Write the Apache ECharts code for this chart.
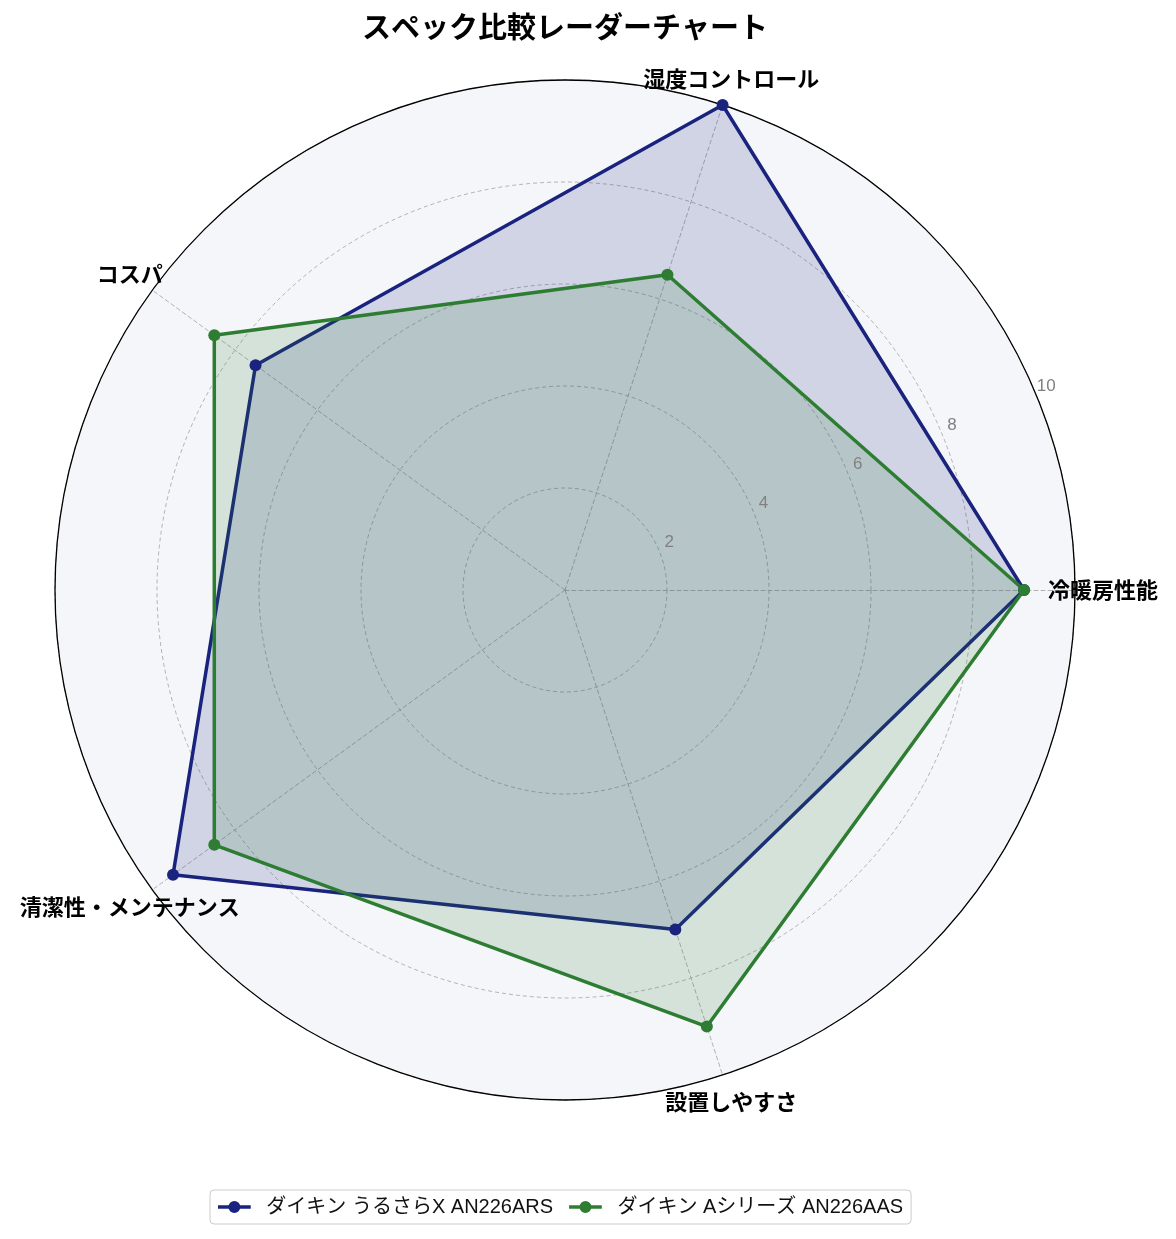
<!DOCTYPE html>
<html>
<head>
<meta charset="utf-8">
<script src="https://cdn.jsdelivr.net/npm/echarts@6/dist/echarts.min.js"></script>
<style>
  html, body { margin: 0; padding: 0; background: #fff; }
  #chart { width: 1176px; height: 1239px; }
</style>
</head>
<body>
<div id="chart"></div>
<script>
var titleText = 'スペック比較レーダーチャート';
var categories = ['冷暖房性能', '湿度コントロール', 'コスパ', '清潔性・メンテナンス', '設置しやすさ'];
var seriesNames = ['ダイキン うるさらX AN226ARS', 'ダイキン Aシリーズ AN226AAS'];
var urusaraValues = [9.0, 10.0, 7.5, 9.5, 7.0];
var aSeriesValues = [9.0, 6.5, 8.5, 8.5, 9.0];
var radialMax = 10;
var radialStep = 2;

var colors = ['#1a237e', '#2e7d32'];
var fontFamily = '"Noto Sans CJK JP", "Noto Sans", sans-serif';
var latinFont = '"Liberation Sans", "Noto Sans CJK JP", sans-serif';

var indicators = [];
for (var i = 0; i < categories.length; i++) {
    indicators.push({ name: categories[i], min: 0, max: radialMax });
}

var legendIcon = 'path://M0,4.5H30V7.5H0Z M15,0.5A5.5,5.5 0 1 1 15,11.5A5.5,5.5 0 1 1 15,0.5Z';

// 外周の黒い円用と、目盛りラベル用(少し外側にずらす)の2つの極座標
var option = {
    backgroundColor: '#ffffff',
    textStyle: { fontFamily: fontFamily },
    title: {
        text: titleText,
        left: 560,
        textAlign: 'center',
        top: 7,
        textStyle: { fontSize: 29, fontWeight: 'bold', color: '#000', fontFamily: fontFamily }
    },
    legend: {
        bottom: 15,
        left: 210,
        itemWidth: 42,
        itemHeight: 12,
        itemGap: 16,
        padding: [7, 8],
        borderColor: '#cccccc',
        borderWidth: 1,
        borderRadius: 4,
        data: [
            { name: seriesNames[0], icon: legendIcon },
            { name: seriesNames[1], icon: legendIcon }
        ],
        textStyle: { fontSize: 20, color: '#111', fontFamily: latinFont, padding: [0, 0, 0, 6] }
    },
    polar: [
        { center: [565, 590], radius: 510 },
        { center: [575, 581], radius: 510 }
    ],
    angleAxis: [
        {
            polarIndex: 0,
            type: 'value',
            min: 0,
            max: 360,
            startAngle: 22.5,
            axisLine: { show: true, lineStyle: { color: '#000', width: 1.3 } },
            axisTick: { show: false },
            axisLabel: { show: false },
            splitLine: { show: false }
        },
        {
            polarIndex: 1,
            type: 'value',
            min: 0,
            max: 360,
            startAngle: 22.5,
            axisLine: { show: false },
            axisTick: { show: false },
            axisLabel: { show: false },
            splitLine: { show: false }
        }
    ],
    radiusAxis: [
        {
            polarIndex: 0,
            type: 'value',
            min: 0,
            max: radialMax,
            interval: radialStep,
            axisLine: { show: false },
            axisTick: { show: false },
            splitLine: { show: false },
            axisLabel: { show: false }
        },
        {
            polarIndex: 1,
            type: 'value',
            min: 0,
            max: radialMax,
            interval: radialStep,
            z: 10,
            axisLine: { show: false },
            axisTick: { show: false },
            splitLine: { show: false },
            axisLabel: {
                color: '#808080',
                fontSize: 17,
                fontFamily: latinFont,
                margin: 0,
                align: 'center',
                verticalAlign: 'middle',
                formatter: function (v) { return v === 0 ? '' : String(v); }
            }
        }
    ],
    radar: {
        center: [565, 590],
        radius: 510,
        startAngle: 0,
        shape: 'circle',
        splitNumber: radialMax / radialStep,
        indicator: indicators,
        nameGap: 28,
        axisName: {
            color: '#000',
            fontSize: 22,
            fontWeight: 'bold',
            fontFamily: fontFamily,
            align: 'center',
            verticalAlign: 'middle'
        },
        splitArea: { show: true, areaStyle: { color: ['#f5f6fa'] } },
        splitLine: { lineStyle: { color: '#aaaaaa', type: [4, 3], width: 0.9 } },
        axisLine: { lineStyle: { color: '#aaaaaa', type: [4, 3], width: 0.9 } }
    },
    series: [
        {
            type: 'radar',
            z: 3,
            symbol: 'circle',
            symbolSize: 12,
            data: [
                {
                    name: seriesNames[0],
                    value: urusaraValues,
                    itemStyle: { color: colors[0] },
                    lineStyle: { color: colors[0], width: 3.5 },
                    areaStyle: { color: colors[0], opacity: 0.16 }
                },
                {
                    name: seriesNames[1],
                    value: aSeriesValues,
                    itemStyle: { color: colors[1] },
                    lineStyle: { color: colors[1], width: 3.5 },
                    areaStyle: { color: colors[1], opacity: 0.16 }
                }
            ]
        }
    ]
};

var chart = echarts.init(document.getElementById('chart'));
chart.setOption(option);
</script>
</body>
</html>
